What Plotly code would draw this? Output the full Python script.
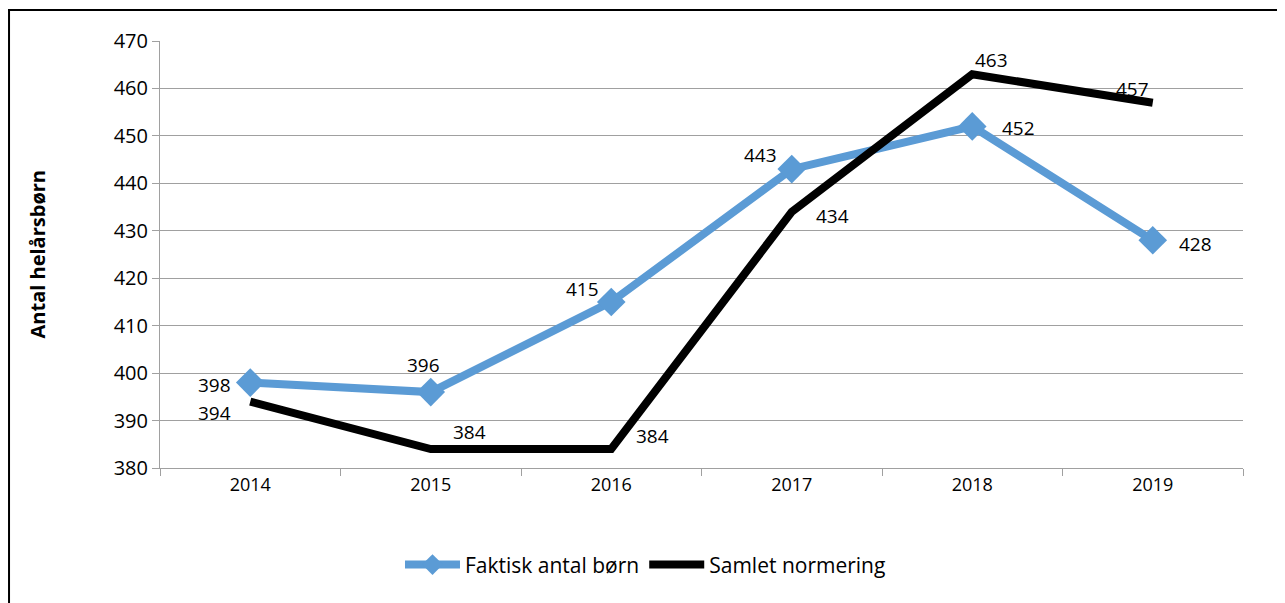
import plotly.graph_objects as go

years = ["2014", "2015", "2016", "2017", "2018", "2019"]
faktisk = [398, 396, 415, 443, 452, 428]
normering = [394, 384, 384, 434, 463, 457]

# label offsets in pixels (dx right, dy up)
faktisk_dx = [-36, -7, -29, -31, 46, 43]
faktisk_dy = [-2, 27, 13, 14, -2, -4]
normering_dx = [-36, 39, 41, 41, 19, -20]
normering_dy = [-11, 17, 13, -4, 14, 14]

FONT = "Open Sans"
fig = go.Figure()
fig.add_trace(go.Scatter(
    x=years, y=faktisk, name="Faktisk antal børn", mode="lines+markers",
    line=dict(color="#5B9BD5", width=8), marker=dict(symbol="diamond", size=22, color="#5B9BD5")))
fig.add_trace(go.Scatter(
    x=years, y=normering, name="Samlet normering", mode="lines",
    line=dict(color="black", width=8)))

annotations = []
for ys, dxs, dys in [(faktisk, faktisk_dx, faktisk_dy), (normering, normering_dx, normering_dy)]:
    for i, (yv, dx, dy) in enumerate(zip(ys, dxs, dys)):
        annotations.append(dict(x=i, y=yv, xref="x", yref="y", text=str(yv), showarrow=False,
                                xshift=dx, yshift=dy, font=dict(size=19, family=FONT, color="black")))
annotations.append(dict(x=-0.1127, y=0.5, xref="paper", yref="paper", text="<b>Antal helårsbørn</b>",
                        textangle=-90, showarrow=False, xanchor="center", yanchor="middle",
                        font=dict(size=20, family=FONT, color="black")))

fig.update_layout(
    width=1285, height=603, paper_bgcolor="white", plot_bgcolor="white",
    margin=dict(l=152, r=50, t=33, b=143),
    font=dict(family=FONT, size=18, color="black"),
    legend=dict(orientation="h", x=0.2216, xanchor="left", y=-0.227, yanchor="middle",
                font=dict(size=21, family=FONT), itemwidth=55),
    showlegend=True,
    annotations=annotations,
)
fig.update_xaxes(type="category", range=[-0.5, 5.5], showline=True, linecolor="#A0A0A0",
                 ticks="outside", tickson="boundaries", ticklen=7, tickcolor="#A0A0A0",
                 showgrid=False, tickfont=dict(size=18))
fig.update_yaxes(range=[380, 470], dtick=10, showline=True, linecolor="#A0A0A0",
                 gridcolor="#A0A0A0", gridwidth=1, ticks="outside", ticklen=7, tickcolor="#A0A0A0",
                 tickfont=dict(size=20), zeroline=False)
fig.add_shape(type="rect", xref="paper", yref="paper", x0=-0.1394, x1=1.0369, y0=-0.4, y1=1.0726,
              line=dict(color="black", width=2), fillcolor="rgba(0,0,0,0)", layer="below")
fig.write_html("out.html")
